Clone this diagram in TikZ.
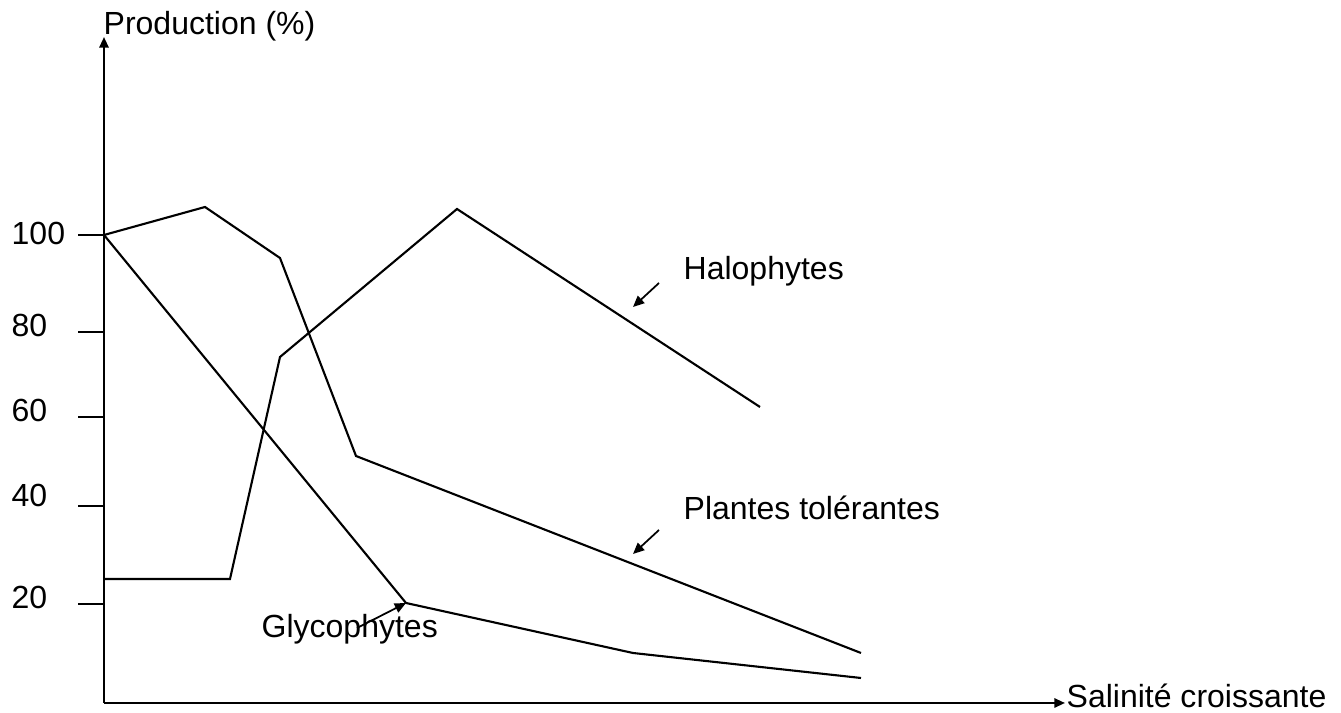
\documentclass[tikz,border=0pt]{standalone}
\usepackage{fontspec}
\setmainfont{Liberation Sans}
\usetikzlibrary{arrows.meta}
\begin{document}
\begin{tikzpicture}[x=0.01cm, y=-0.01cm,
  curve/.style={line width=0.6pt, line join=miter},
  axis/.style={line width=0.6pt, -{Triangle[length=3pt,width=2.6pt]}},
  pointer/.style={line width=0.5pt, -{Triangle[length=3.2pt,width=2.8pt]}},
  tick/.style={line width=0.6pt},
  lbl/.style={inner sep=0pt, font=\fontsize{9.1}{11}\selectfont},
]
\useasboundingbox (0,0) rectangle (1341,713);

% axes
\coordinate (O) at (104,703);
\coordinate (ytop) at (104,37);
\coordinate (xend) at (1065,703);
\draw[axis] (O) -- (ytop);
\draw[axis] (O) -- (xend);
\node[lbl, anchor=base west] (ylab) at (103,35) {Production (\%)};
\node[lbl, anchor=base west] (xlab) at (1066,708) {Salinité croissante};

% ticks and their values
\foreach \v/\y/\b in {100/235/245, 80/332/337, 60/417/422, 40/506/507, 20/604/609} {
  \draw[tick] (78,\y) -- (104,\y);
  \node[lbl, anchor=base west] (t\v) at (11,\b) {\v};
}

% glycophytes
\coordinate (g0) at (104,235);
\coordinate (g1) at (406,603);
\coordinate (g2) at (633,653);
\coordinate (g3) at (861,678);
\draw[curve] (g0) -- (g1) -- (g2) -- (g3);

% tolerant plants
\coordinate (p0) at (104,235);
\coordinate (p1) at (205,207);
\coordinate (p2) at (280,258);
\coordinate (p3) at (356,456);
\coordinate (p4) at (861,653);
\draw[curve] (p0) -- (p1) -- (p2) -- (p3) -- (p4);

% halophytes
\coordinate (h0) at (104,579);
\coordinate (h1) at (230,579);
\coordinate (h2) at (280,357);
\coordinate (h3) at (457,209);
\coordinate (h4) at (760,407);
\draw[curve] (h0) -- (h1) -- (h2) -- (h3) -- (h4);

% curve labels with pointers
\node[lbl, anchor=base west] (lh) at (683,280) {Halophytes};
\coordinate (ah0) at (659,283);
\coordinate (ah1) at (633,307);
\draw[pointer] (ah0) -- (ah1);

\node[lbl, anchor=base west] (lp) at (683,520) {Plantes tolérantes};
\coordinate (ap0) at (659,530);
\coordinate (ap1) at (633,554);
\draw[pointer] (ap0) -- (ap1);

\node[lbl, anchor=base west] (lg) at (261,638) {Glycophytes};
\coordinate (ag0) at (357,628);
\draw[pointer] (ag0) -- (g1);
\end{tikzpicture}
\end{document}
